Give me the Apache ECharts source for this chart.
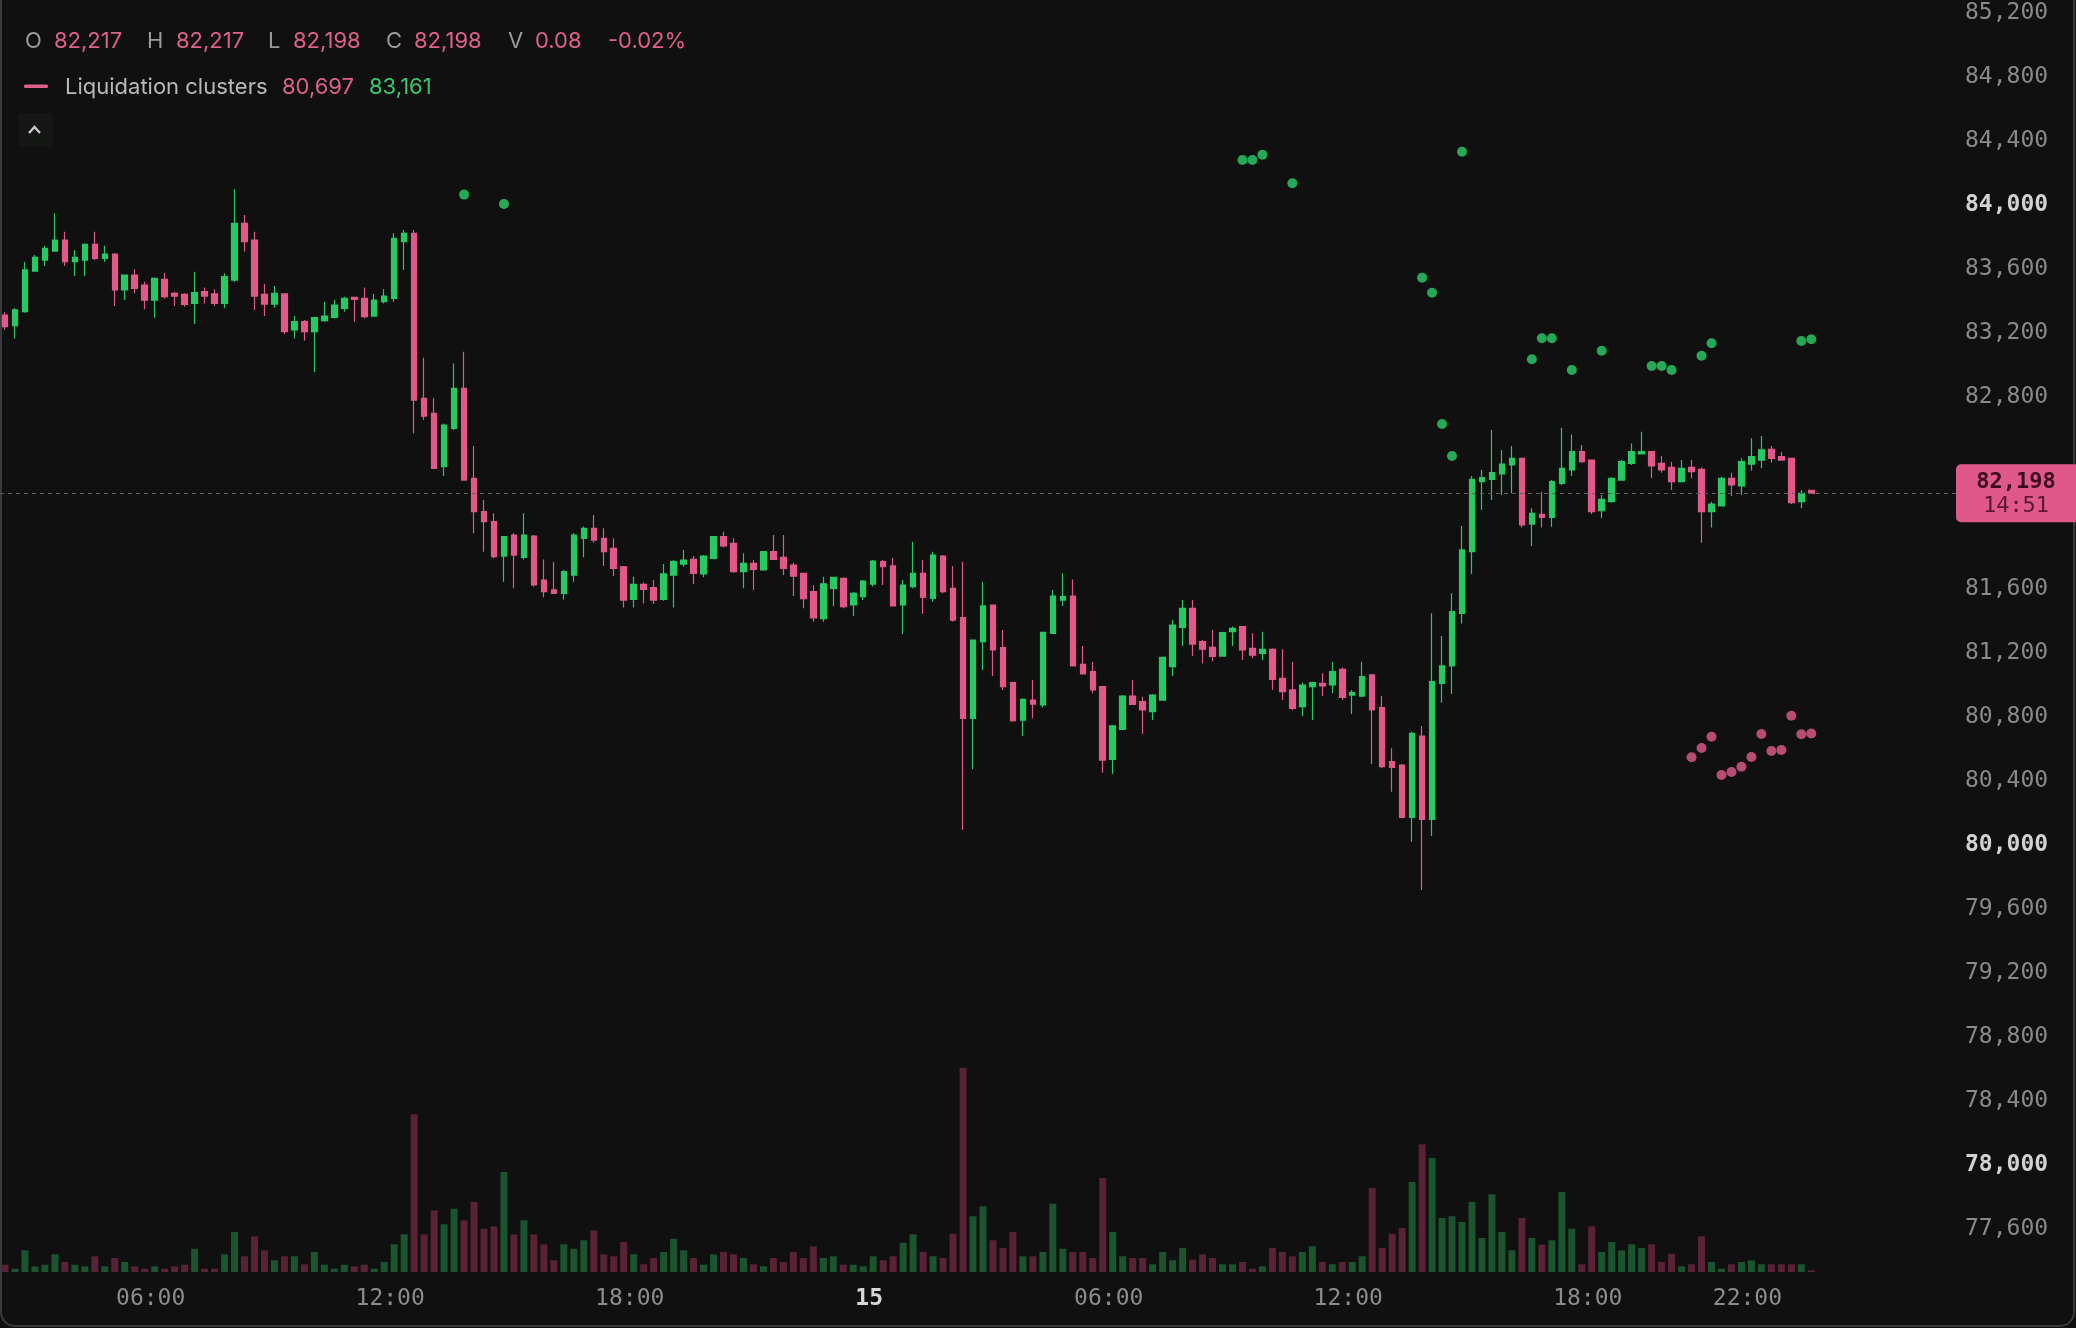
<!DOCTYPE html>
<html><head><meta charset="utf-8">
<script src="https://cdn.jsdelivr.net/npm/echarts@6/dist/echarts.min.js"></script>
<style>html,body{margin:0;padding:0;background:#0f100f;}#c{width:2076px;height:1328px;}</style>
</head><body><div id="c"></div>
<script>
// 15-minute candles, 14th 02:15 -> 15th 23:30
const opens=[83312,83246,83333,83587,83656,83712,83781,83646,83656,83754,83666,83693,83469,83562,83500,83406,83535,83448,83442,83385,83458,83444,83385,83531,83885,83781,83442,83381,83444,83219,83271,83208,83277,83298,83354,83423,83417,83306,83396,83417,83771,83823,82792,82698,82364,82604,82854,82292,82083,82021,81806,81937,81798,81931,81656,81594,81573,81687,81917,81979,81917,81854,81739,81535,81629,81608,81535,81687,81756,81785,81694,81792,81927,81885,81708,81760,81719,81833,81798,81750,81698,81583,81415,81604,81667,81500,81552,81631,81771,81744,81500,81615,81698,81542,81806,81604,81421,80792,81271,81500,81233,81015,80781,80906,80875,81323,81531,81556,81129,81083,80990,80535,80723,80931,80896,80833,80906,81115,81360,81479,81271,81235,81181,81333,81365,81229,81198,81223,81042,80969,80865,80990,81010,81000,81098,80937,80931,81063,80858,80521,80500,80173,80681,80160,81010,81119,81448,81833,82271,82285,82319,82375,82417,82006,82067,82048,82260,82344,82458,82406,82089,82146,82281,82385,82444,82458,82385,82360,82271,82360,82348,82083,82119,82292,82244,82381,82406,82473,82427,82417,82146,82217];
const highs=[83330,83354,83646,83687,83746,83948,83833,83719,83760,83833,83746,83698,83566,83598,83521,83546,83577,83458,83448,83583,83485,83473,83573,84098,83937,83833,83506,83494,83448,83306,83281,83302,83396,83406,83427,83423,83485,83444,83473,83823,83844,83844,83045,82792,82635,83010,83083,82494,82156,82073,81931,81948,82073,81937,81785,81771,81719,81948,81990,82062,81979,81917,81744,81677,81640,81656,81756,81781,81844,81806,81812,81931,81958,81917,81823,81781,81833,81937,81937,81764,81702,81625,81677,81677,81673,81583,81656,81781,81781,81796,81656,81896,81781,81833,81812,81744,81771,81281,81646,81500,81344,81021,80917,81031,81333,81594,81698,81660,81244,81146,80994,80750,80937,81031,80927,80944,81177,81406,81531,81531,81281,81346,81333,81365,81369,81323,81333,81229,81223,81146,81015,81021,81073,81146,81110,80969,81146,81069,80931,80604,80506,80708,80744,81448,81306,81573,81994,82306,82344,82594,82469,82494,82417,82104,82208,82281,82608,82566,82500,82410,82187,82298,82406,82510,82583,82458,82431,82396,82406,82406,82360,82146,82302,82327,82417,82542,82556,82494,82458,82417,82219,82217];
const lows=[83220,83166,83327,83583,83619,83708,83619,83556,83556,83656,83646,83369,83406,83448,83348,83296,83416,83369,83364,83256,83385,83369,83354,83521,83708,83344,83306,83358,83194,83166,83152,82954,83271,83292,83333,83271,83292,83302,83385,83396,83594,82573,82656,82354,82306,82594,82281,81948,81833,81792,81646,81604,81785,81615,81548,81569,81535,81646,81798,81889,81744,81681,81485,81485,81510,81506,81527,81485,81739,81631,81673,81785,81860,81702,81604,81594,81719,81781,81687,81556,81479,81396,81396,81494,81479,81431,81531,81615,81625,81490,81319,81604,81444,81521,81573,81396,80094,80473,81094,81056,80969,80771,80681,80792,80860,81323,81494,81119,81069,80948,80452,80444,80719,80875,80694,80781,80906,81056,81244,81181,81135,81148,81181,81244,81156,81167,81156,80969,80906,80844,80806,80781,80931,80948,80906,80819,80923,80506,80479,80333,80167,80021,79719,80056,80889,80944,81385,81694,82094,82156,82187,82198,81985,81869,81985,81989,82250,82306,82389,82069,82042,82140,82281,82375,82444,82292,82327,82219,82271,82292,81889,81985,82119,82181,82187,82340,82354,82389,82406,82131,82104,82198];
const closes=[83240,83344,83594,83673,83729,83781,83646,83673,83754,83666,83693,83469,83562,83479,83406,83541,83427,83431,83379,83452,83431,83385,83552,83885,83771,83431,83381,83448,83208,83271,83208,83296,83306,83375,83417,83410,83302,83406,83431,83792,83823,82781,82680,82354,82625,82854,82281,82083,82021,81802,81927,81812,81937,81625,81583,81573,81708,81937,81979,81906,81833,81729,81531,81629,81598,81531,81694,81771,81781,81698,81806,81927,81869,81708,81760,81723,81833,81785,81729,81681,81540,81420,81632,81673,81490,81573,81650,81775,81739,81494,81625,81698,81548,81812,81583,81406,80792,81281,81494,81219,80990,80777,80910,80881,81329,81556,81552,81119,81069,80969,80531,80744,80931,80879,80844,80937,81173,81375,81479,81256,81224,81179,81327,81354,81219,81187,81223,81035,80958,80854,81000,81015,80994,81083,80923,80952,81052,80844,80490,80485,80173,80698,80160,81021,81119,81458,81844,82285,82296,82327,82381,82417,82000,82073,82048,82271,82354,82458,82396,82083,82160,82292,82396,82458,82458,82369,82344,82271,82354,82333,82083,82131,82292,82250,82396,82427,82469,82417,82406,82140,82198,82198];
const volumes=[7.3,3.3,21.7,5.7,7.3,17.7,10,7.3,5.7,15.7,5.7,14,10,5.7,3.3,5.7,3.3,5.7,7.3,23.3,3.3,3.3,17.7,40,15.7,35.7,21.7,11.7,15.7,15.7,7.7,20,7.3,3.3,7.3,5.7,7.3,3.3,10,27.7,37.7,157.7,37.7,61.7,47.7,63.3,51.7,70,43.3,45.7,100,37.7,51.7,37.7,27.7,11.7,27.7,23.3,31.7,41.7,17.7,15.7,30,17.7,7.7,14,20,33.3,21.7,14,7.3,17.7,20,17.7,14,7.7,5.7,14,10,20,14,25.7,14,15.7,7.3,7.3,5.7,15.7,11.7,15.7,29.3,37.7,20,15.7,14,38.3,204.3,55.7,65.7,31.7,24,40,15.7,15.7,20,68.3,23.3,20,20,14,94,40,15.7,14,14,7.7,20,11.7,24,12.3,17.7,14,7.7,7.7,10,3.3,5.7,24,20,15.7,20,25.7,10,7.7,10,10,15.7,84,24,38.3,44,90,127.7,114,54,55.7,50,70,34,77.7,40,21.7,54,34,27.3,31.7,80,43.3,7.7,45.7,20,30,21.7,27.7,24,27.7,10,18.3,5.7,7.7,35.7,10,3.3,7.7,10,11.7,7.7,7.7,7.7,7.7,7.7,1.7];
// liquidation clusters
const clusterHighIdx=[46,50,124,125,126,129,142,143,144,145,146,153,154,155,157,160,165,166,167,170,171,180,181];
const clusterHighPrice=[84065,84006,84281,84281,84314,84136,83546,83452,82631,82431,84333,83036,83167,83167,82969,83089,82994,82994,82969,83058,83136,83150,83161];
const clusterLowIdx=[169,170,171,172,173,174,175,176,177,178,179,180,181];
const clusterLowPrice=[80548,80606,80677,80438,80456,80489,80550,80694,80588,80594,80808,80692,80697];
const tickIdx=[15,39,63,87,111,135,159,175];
const tickText=['06:00','12:00','18:00','15','06:00','12:00','18:00','22:00'];
const padSlots=14;

const UP='#27c964', DOWN='#e2588a', VUP='#1a5530', VDOWN='#5a2236';
const categories=[];
for(let i=0;i<opens.length+padSlots;i++){
  const m=(2*60+15)+15*i; const d=14+Math.floor(m/1440); const mm=m%1440;
  categories.push(d+' '+String(Math.floor(mm/60)).padStart(2,'0')+':'+String(mm%60).padStart(2,'0'));
}
const candle=opens.map((o,i)=>[o,closes[i],lows[i],highs[i]]);
const vol=volumes.map((v,i)=>({value:v,itemStyle:{color:closes[i]>=opens[i]?VUP:VDOWN}}));
const hiPts=clusterHighIdx.map((x,k)=>[x,clusterHighPrice[k]]);
const loPts=clusterLowIdx.map((x,k)=>[x,clusterLowPrice[k]]);
const lastClose=closes[closes.length-1];
const MONO='"DejaVu Sans Mono", monospace';

const chart=echarts.init(document.getElementById('c'));
chart.setOption({
  backgroundColor:'#0f100f',
  animation:false,
  grid:[{left:-4,right:120,top:13,bottom:99},{left:-4,right:120,top:1067,bottom:56}],
  xAxis:[
    {type:'category',gridIndex:0,data:categories,boundaryGap:true,axisLine:{show:false},axisTick:{show:false},axisLabel:{show:false},splitLine:{show:false}},
    {type:'category',gridIndex:1,data:categories,boundaryGap:true,axisLine:{show:false},axisTick:{show:false},splitLine:{show:false},
     axisLabel:{show:true,margin:16,padding:[0,8,0,0],interval:(idx)=>tickIdx.includes(idx),
       formatter:(v,idx)=>{const k=tickIdx.indexOf(idx); if(k<0) return ''; const t=tickText[k]; return t==='15'?'{b|15}':t;},
       color:'#8c8c8c',fontFamily:MONO,fontSize:23,
       rich:{b:{color:'#d6d6d6',fontWeight:'bold',fontFamily:MONO,fontSize:23}}}}
  ],
  yAxis:[
    {type:'value',gridIndex:0,position:'right',min:77600,max:85200,interval:400,scale:false,
     axisLine:{show:false},axisTick:{show:false},splitLine:{show:false},
     axisLabel:{margin:9,align:'left',color:'#8a8a8a',fontFamily:MONO,fontSize:23,
       formatter:(v)=>{if(v===82400||v===82000) return ''; const s=v.toLocaleString('en-US'); return v%2000===0?'{b|'+s+'}':s;},
       rich:{b:{color:'#d2d2d2',fontWeight:'bold',fontFamily:MONO,fontSize:23}}}},
    {type:'value',gridIndex:1,min:0,max:205,show:false,splitLine:{show:false}}
  ],
  series:[
    {type:'bar',xAxisIndex:1,yAxisIndex:1,data:vol,barWidth:7,silent:true},
    {type:'candlestick',xAxisIndex:0,yAxisIndex:0,data:candle,barWidth:6,
     itemStyle:{color:UP,color0:DOWN,borderColor:UP,borderColor0:DOWN,borderWidth:1.2},
     markLine:{silent:true,symbol:['none','none'],label:{show:false},
       lineStyle:{color:'#5c5c5c',type:[4,4],width:1},data:[{yAxis:lastClose}]}},
    {type:'scatter',xAxisIndex:0,yAxisIndex:0,data:hiPts,symbolSize:10,itemStyle:{color:'#2bcf68'},silent:true},
    {type:'scatter',xAxisIndex:0,yAxisIndex:0,data:loPts,symbolSize:10,itemStyle:{color:'#e45b8d'},silent:true}
  ]
});

const py=chart.convertToPixel({yAxisIndex:0},lastClose);
const SANS='Inter, "Noto Sans", sans-serif';
const GRAY='#9a9a9a', PINK='#e0608c', GREEN='#3cc66a';
function t(x,y,text,fill){return {type:'text',x:x,y:y,style:{text:text,fill:fill,font:'22px '+SANS,verticalAlign:'middle'}};}
chart.setOption({graphic:[
  {type:'rect',shape:{x:1,y:-20,width:2073,height:1346,r:14},style:{fill:'none',stroke:'#3a3a3a',lineWidth:2},silent:true},
  t(25,41,'O',GRAY), t(54,41,'82,217',PINK),
  t(147,41,'H',GRAY), t(176,41,'82,217',PINK),
  t(268,41,'L',GRAY), t(293,41,'82,198',PINK),
  t(386,41,'C',GRAY), t(414,41,'82,198',PINK),
  t(508,41,'V',GRAY), t(535,41,'0.08',PINK),
  t(608,41,'-0.02%',PINK),
  {type:'rect',shape:{x:24,y:84.5,width:24,height:3.5,r:1.5},style:{fill:PINK}},
  t(65,87,'Liquidation clusters','#b9b9b9'),
  t(282,87,'80,697',PINK), t(369,87,'83,161',GREEN),
  {type:'rect',shape:{x:18,y:113,width:35,height:34,r:4},style:{fill:'#151715'}},
  {type:'polyline',shape:{points:[[29,133],[34.5,127],[40,133]]},style:{stroke:'#cfcfcf',lineWidth:2.2,fill:'none'}},
  {type:'rect',shape:{x:1956,y:py-29,width:120,height:58,r:[5,0,0,5]},style:{fill:'#e0578a'}},
  {type:'text',x:2016,y:py-11,style:{text:'82,198',fill:'#3a0a1b',font:'bold 22px '+MONO,align:'center',verticalAlign:'middle'}},
  {type:'text',x:2016,y:py+13,style:{text:'14:51',fill:'#5e1732',font:'22px '+MONO,align:'center',verticalAlign:'middle'}}
]});
</script></body></html>
